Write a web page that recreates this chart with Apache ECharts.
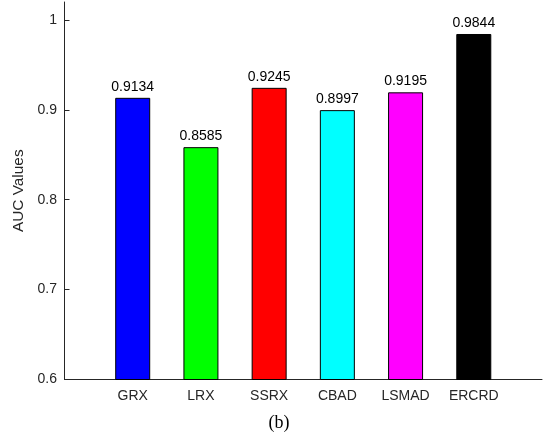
<!DOCTYPE html>
<html>
<head>
<meta charset="utf-8">
<script src="https://cdn.jsdelivr.net/npm/echarts@6/dist/echarts.min.js"></script>
<style>html,body{margin:0;padding:0;background:#fff;}#c{width:551px;height:441px;}</style>
</head>
<body>
<div id="c"></div>
<script>
const categories = ['GRX', 'LRX', 'SSRX', 'CBAD', 'LSMAD', 'ERCRD'];
const aucValues = [0.9134, 0.8585, 0.9245, 0.8997, 0.9195, 0.9844];
const barColors = ['#0000ff', '#00ff00', '#ff0000', '#00ffff', '#ff00ff', '#000000'];
const yTicks = [0.6, 0.7, 0.8, 0.9, 1];

const chart = echarts.init(document.getElementById('c'), null, {renderer: 'canvas'});
const axisColor = '#262626';
const font = 'Liberation Sans, Arial, sans-serif';
// pad with empty slots at both ends so bars sit at 1..6 on a 0..7 range
const xData = [''].concat(categories, ['']);
const seriesData = ['-'].concat(aucValues.map((v, i) => ({
  value: v,
  itemStyle: {color: barColors[i]}
})), ['-']);

chart.setOption({
  animation: false,
  backgroundColor: '#fff',
  grid: {left: 64.5, right: 9, top: 2, bottom: 61.5, containLabel: false},
  xAxis: {
    type: 'category',
    data: xData,
    boundaryGap: false,
    axisLine: {lineStyle: {color: axisColor, width: 1}},
    axisTick: {show: false},
    axisLabel: {color: axisColor, fontFamily: font, fontSize: 14, margin: 10, interval: 0},
    splitLine: {show: false}
  },
  yAxis: {
    type: 'value',
    min: 0.6,
    max: 1.02,
    name: 'AUC Values',
    nameLocation: 'middle',
    nameGap: 33,
    nameTextStyle: {color: axisColor, fontFamily: font, fontSize: 15.4},
    axisLine: {show: true, lineStyle: {color: axisColor, width: 1}},
    axisTick: {show: true, inside: true, length: 5, customValues: yTicks, lineStyle: {color: axisColor}},
    axisLabel: {color: axisColor, fontFamily: font, fontSize: 14, margin: 7.5, customValues: yTicks},
    splitLine: {show: false}
  },
  series: [{
    type: 'bar',
    data: seriesData,
    barWidth: 35,
    itemStyle: {borderColor: '#000', borderWidth: 1},
    label: {
      show: true,
      position: 'top',
      distance: 4,
      color: '#000',
      fontFamily: font,
      fontSize: 14,
      formatter: p => p.value.toFixed(4)
    }
  }],
  graphic: [{
    type: 'text',
    x: 279,
    y: 423,
    style: {text: '(b)', font: '18px "Liberation Serif", "Times New Roman", serif', fill: '#000', align: 'center', verticalAlign: 'middle'}
  }]
});
</script>
</body>
</html>
